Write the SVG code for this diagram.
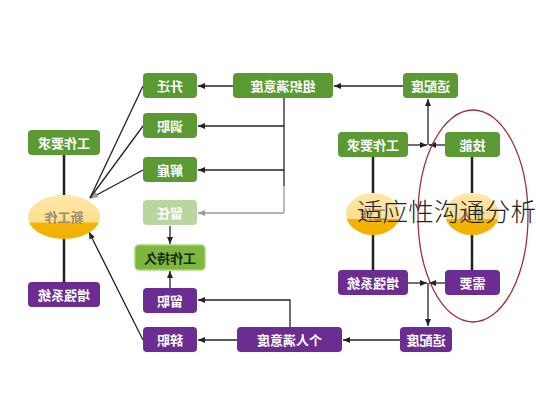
<svg xmlns="http://www.w3.org/2000/svg" width="536" height="400" viewBox="0 0 536 400">
<style>
.g{fill:#5b9a32}
.p{fill:#6b2d92}
.lg{fill:#b9d6a0}
.t{font-family:"Noto Sans CJK SC","Noto Sans",sans-serif;font-size:13px;font-weight:bold;fill:#fff;text-anchor:middle}
.et{font-family:"Noto Sans CJK SC","Noto Sans",sans-serif;font-size:13px;font-weight:bold;fill:#9a8c70;text-anchor:middle}
.ln{stroke:#222;stroke-width:1.3;fill:none}
.tk{stroke:#222;stroke-width:2.5;fill:none}
.gr{stroke:#999;stroke-width:1.3;fill:none}
</style>
<defs>
<marker id="a" markerWidth="8" markerHeight="8" refX="7" refY="4" orient="auto" markerUnits="userSpaceOnUse"><path d="M0,1 L7,4 L0,7 z" fill="#222"/></marker>
<marker id="ag" markerWidth="8" markerHeight="8" refX="7" refY="4" orient="auto" markerUnits="userSpaceOnUse"><path d="M0,1 L7,4 L0,7 z" fill="#999"/></marker>
<linearGradient id="eg" x1="0" y1="0" x2="0" y2="1"><stop offset="0" stop-color="#fde7a8"/><stop offset="0.62" stop-color="#fcdf8e"/><stop offset="0.63" stop-color="#f4b400"/><stop offset="1" stop-color="#f2b000"/></linearGradient>
</defs>
<rect width="536" height="400" fill="#fff"/>
<g id="connectors">
<line class="ln" x1="233" y1="86" x2="198" y2="86" marker-end="url(#a)"/>
<line class="ln" x1="403" y1="86" x2="334" y2="86" marker-end="url(#a)"/>
<line class="ln" x1="284" y1="98" x2="284" y2="186"/>
<line class="gr" x1="284" y1="186" x2="284" y2="213"/>
<line class="ln" x1="284" y1="126" x2="198" y2="126" marker-end="url(#a)"/>
<line class="ln" x1="284" y1="170" x2="198" y2="170" marker-end="url(#a)"/>
<line class="gr" x1="284" y1="213" x2="198" y2="213" marker-end="url(#ag)"/>
<line class="ln" x1="170" y1="226" x2="170" y2="244" marker-end="url(#a)"/>
<line class="ln" x1="170" y1="288" x2="170" y2="271" marker-end="url(#a)"/>
<line class="ln" x1="143" y1="86" x2="90" y2="198"/>
<line class="ln" x1="143" y1="126" x2="90" y2="198"/>
<line class="ln" x1="143" y1="170" x2="91" y2="198" marker-end="url(#ag)"/>
<line class="ln" x1="143" y1="340" x2="89" y2="232" marker-end="url(#a)"/>
<line class="tk" x1="64" y1="155" x2="64" y2="195"/>
<line class="tk" x1="64" y1="239" x2="64" y2="282"/>
<line class="tk" x1="373" y1="157" x2="373" y2="193"/>
<line class="tk" x1="373" y1="235" x2="373" y2="270"/>
<line class="tk" x1="472" y1="157" x2="472" y2="193"/>
<line class="tk" x1="472" y1="235" x2="472" y2="270"/>
<line class="ln" x1="408" y1="145" x2="427" y2="145" marker-end="url(#a)"/>
<line class="ln" x1="445" y1="145" x2="429" y2="145" marker-end="url(#a)"/>
<line class="ln" x1="428" y1="145" x2="428" y2="99" marker-end="url(#a)"/>
<line class="ln" x1="408" y1="283" x2="427" y2="283" marker-end="url(#a)"/>
<line class="ln" x1="445" y1="283" x2="429" y2="283" marker-end="url(#a)"/>
<line class="ln" x1="428" y1="283" x2="428" y2="326" marker-end="url(#a)"/>
<line class="ln" x1="400" y1="340" x2="343" y2="340" marker-end="url(#a)"/>
<polyline class="ln" points="290,327 290,300 198,300" marker-end="url(#a)"/>
<line class="ln" x1="237" y1="340" x2="198" y2="340" marker-end="url(#a)"/>
</g>
<g id="n-shengqian"><rect class="g" x="143" y="73" width="54" height="25" rx="4"/><text class="t" x="-170" y="90.5" transform="scale(-1,1)">升迁</text></g>
<g id="n-zuzhi"><rect class="g" x="233" y="73" width="100" height="25" rx="4"/><text class="t" x="-283" y="90.5" transform="scale(-1,1)">组织满意度</text></g>
<g id="n-shipei1"><rect class="g" x="403" y="73" width="55" height="25" rx="4"/><text class="t" x="-430.5" y="90.5" transform="scale(-1,1)">适配度</text></g>
<g id="n-diaozhi"><rect class="g" x="143" y="113" width="54" height="25" rx="4"/><text class="t" x="-170" y="130.5" transform="scale(-1,1)">调职</text></g>
<g id="n-jiegu"><rect class="g" x="143" y="157" width="54" height="25" rx="4"/><text class="t" x="-170" y="174.5" transform="scale(-1,1)">解雇</text></g>
<g id="n-liuren"><rect class="lg" x="143" y="200" width="54" height="25" rx="4"/><text class="t" x="-170" y="217.5" transform="scale(-1,1)">留任</text></g>
<g id="n-chijiu"><rect x="135" y="245" width="70" height="25" rx="4" fill="#7cb83e" stroke="#a9d47a" stroke-width="1.5"/><text x="-170" y="262.5" transform="scale(-1,1)" class="t" style="fill:#1a2a10">工作持久</text></g>
<g id="n-liuzhi"><rect class="p" x="143" y="288" width="54" height="25" rx="4"/><text class="t" x="-170" y="305.5" transform="scale(-1,1)">留职</text></g>
<g id="n-cizhi"><rect class="p" x="143" y="327" width="54" height="25" rx="4"/><text class="t" x="-170" y="344.5" transform="scale(-1,1)">辞职</text></g>
<g id="n-geren"><rect class="p" x="237" y="327" width="105" height="25" rx="4"/><text class="t" x="-289.5" y="344.5" transform="scale(-1,1)">个人满意度</text></g>
<g id="n-shipei2"><rect class="p" x="400" y="327" width="52" height="25" rx="4"/><text class="t" x="-426" y="344.5" transform="scale(-1,1)">适配度</text></g>
<g id="n-yaoqiu1"><rect class="g" x="28" y="130" width="72" height="25" rx="4"/><text class="t" x="-64" y="147.5" transform="scale(-1,1)">工作要求</text></g>
<g id="n-xingongzuo"><ellipse cx="64" cy="217" rx="36" ry="22" fill="url(#eg)"/><text class="et" x="-64" y="221.5" transform="scale(-1,1)">新工作</text></g>
<g id="n-zengqiang1"><rect class="p" x="28" y="282" width="72" height="25" rx="4"/><text class="t" x="-64" y="299.5" transform="scale(-1,1)">增强系统</text></g>
<g id="n-yaoqiu2"><rect class="g" x="338" y="132" width="70" height="25" rx="4"/><text class="t" x="-373" y="149.5" transform="scale(-1,1)">工作要求</text></g>
<g id="n-jineng"><rect class="g" x="445" y="132" width="55" height="25" rx="4"/><text class="t" x="-472.5" y="149.5" transform="scale(-1,1)">技能</text></g>
<g id="n-gongzuo"><ellipse cx="373" cy="214" rx="27" ry="21" fill="url(#eg)"/><text class="et" x="-373" y="218.5" transform="scale(-1,1)">工作</text></g>
<g id="n-gerenE"><ellipse cx="472" cy="214" rx="27" ry="21" fill="url(#eg)"/><text class="et" x="-472" y="218.5" transform="scale(-1,1)">个人</text></g>
<g id="n-zengqiang2"><rect class="p" x="338" y="270" width="70" height="25" rx="4"/><text class="t" x="-373" y="287.5" transform="scale(-1,1)">增强系统</text></g>
<g id="n-xuyao"><rect class="p" x="445" y="270" width="55" height="25" rx="4"/><text class="t" x="-472.5" y="287.5" transform="scale(-1,1)">需要</text></g>
<ellipse cx="473" cy="216" rx="55" ry="106" fill="none" stroke="#a0303a" stroke-width="1.3"/>
<text x="357" y="221" font-family="'Noto Sans CJK SC','Noto Sans',sans-serif" font-size="25" font-weight="300" fill="#222" textLength="179" lengthAdjust="spacingAndGlyphs">适应性沟通分析</text>
</svg>
